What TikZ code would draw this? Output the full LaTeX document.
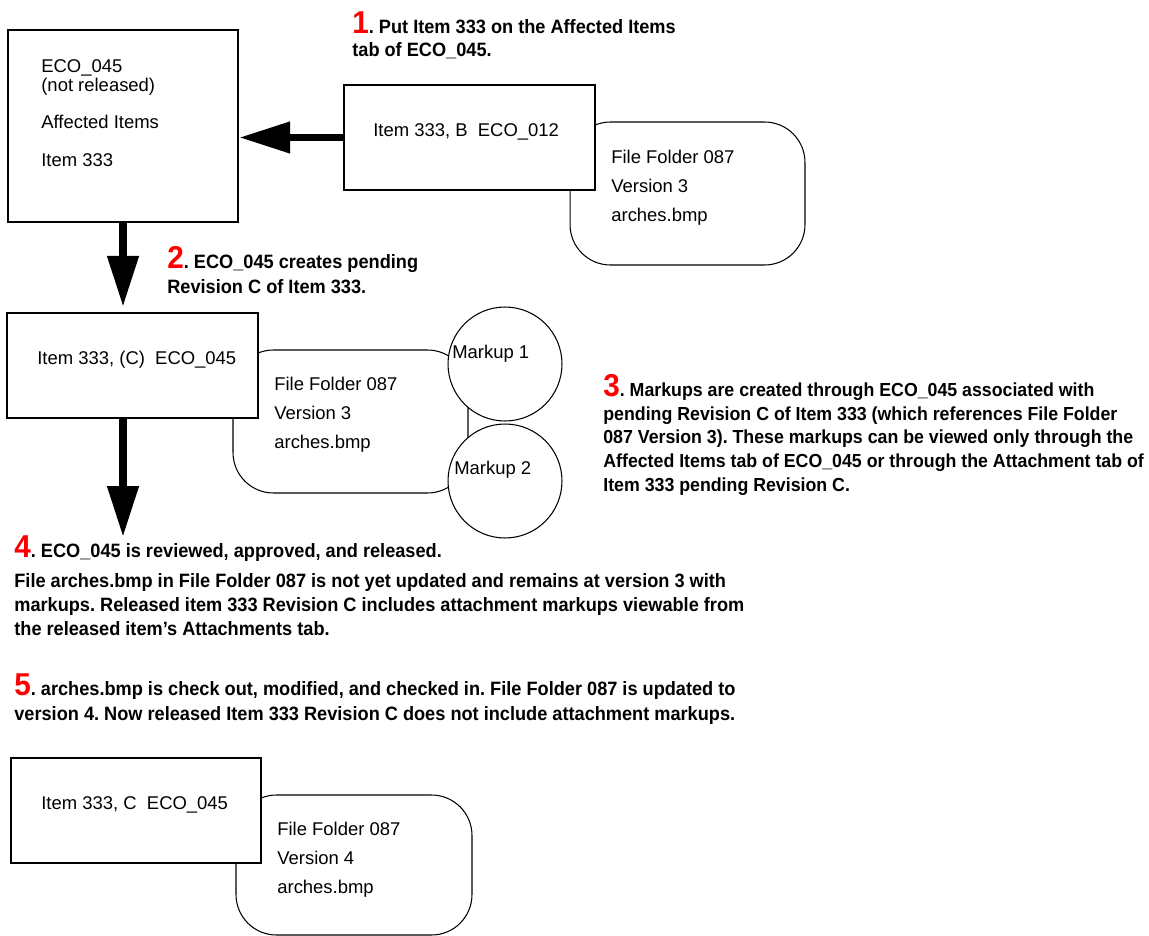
\documentclass[tikz,border=0pt]{standalone}
\usepackage{fontspec}
\setmainfont{Liberation Sans}
\newfontfamily\etroite[FakeStretch=0.94]{Liberation Sans}
\usetikzlibrary{arrows.meta}
\definecolor{rouge}{RGB}{255,0,0}
\newcommand{\etape}[1]{{\fontsize{18}{18}\selectfont\color{rouge}#1}.}
\frenchspacing

\begin{document}
\begin{tikzpicture}[x=0.02cm, y=-0.02cm]
\tikzset{boite/.style={draw, line width=1.4pt, fill=white, inner sep=0pt, minimum width=5.02cm, minimum height=2.1cm},
  dossier/.style={draw, line width=0.6pt, rounded corners=23pt, inner sep=0pt, minimum width=4.7cm, minimum height=2.86cm},
  rond/.style={draw, circle, line width=0.6pt, fill=white, inner sep=0pt, minimum size=2.28cm},
  texte/.style={anchor=base west, inner sep=0pt, align=left, font=\fontsize{10.5}{16.5}\selectfont},
  note/.style={anchor=base west, inner sep=0pt, align=left, font=\etroite\bfseries\fontsize{11}{13.6}\selectfont},
  fleche/.style={line width=4.5pt, -{Triangle[length=29pt, width=17pt]}}}
\useasboundingbox (0,0) rectangle (1149,936);
\node[dossier] (R1) at (687.5,193.5) {};
\node[dossier] (R2) at (350.5,421.5) {};
\node[dossier, minimum width=4.72cm, minimum height=2.8cm] (R3) at (354,865) {};
\node[boite, minimum width=4.6cm, minimum height=3.84cm] (A) at (123,126) {};
\node[boite] (B) at (469.5,137.5) {};
\node[boite] (C) at (132.5,365.5) {};
\node[boite, minimum width=5cm] (D) at (136,810.5) {};
\node[rond] (M1) at (505,364) {};
\node[rond] (M2) at (505,481) {};
\node[texte, font=\fontsize{10.5}{10.8}\selectfont] (tA) at (41,166) {ECO\_045\\(not released)\\[10.2pt]Affected Items\\[10.7pt]Item 333};
\node[texte] (tB) at (373,136) {Item 333, B~~ECO\_012};
\node[texte] (tC) at (37,364) {Item 333, (C)~~ECO\_045};
\node[texte] (tD) at (41,809) {Item 333, C~~ECO\_045};
\node[texte] (tR1) at (611,221) {File Folder 087\\Version 3\\arches.bmp};
\node[texte] (tR2) at (274,448) {File Folder 087\\Version 3\\arches.bmp};
\node[texte] (tR3) at (277,893) {File Folder 087\\Version 4\\arches.bmp};
\node[texte] (tM1) at (452,358) {Markup 1};
\node[texte] (tM2) at (454,474) {Markup 2};
\node[note] (n1) at (352,57) {\etape{1} Put Item 333 on the Affected Items\\tab of ECO\_045.};
\node[note, font=\etroite\bfseries\fontsize{11}{14.2}\selectfont] (n2) at (167,293) {\etape{2} ECO\_045 creates pending\\Revision C of Item 333.};
\node[note, font=\etroite\bfseries\fontsize{10.75}{13.45}\selectfont] (n3) at (603,491) {\etape{3} Markups are created through ECO\_045 associated with\\pending Revision C of Item 333 (which references File Folder\\087 Version 3). These markups can be viewed only through the\\Affected Items tab of ECO\_045 or through the Attachment tab of\\Item 333 pending Revision C.};
\node[note] (n4) at (14,635) {\etape{4} ECO\_045 is reviewed, approved, and released.\\[3.4pt]File arches.bmp in File Folder 087 is not yet updated and remains at version 3 with\\markups. Released item 333 Revision C includes attachment markups viewable from\\the released item’s Attachments tab.};
\node[note, font=\etroite\bfseries\fontsize{11}{14.2}\selectfont] (n5) at (14,720) {\etape{5} arches.bmp is check out, modified, and checked in. File Folder 087 is updated to\\version 4. Now released Item 333 Revision C does not include attachment markups.};
\coordinate (bas) at (123,537);
\draw[fleche] (B.west) -- (B.west -| A.east);
\draw[fleche, shorten >=2.8pt] (A.south) -- (A.south |- C.north);
\draw[fleche] (bas |- C.south) -- (bas);
\end{tikzpicture}
\end{document}
